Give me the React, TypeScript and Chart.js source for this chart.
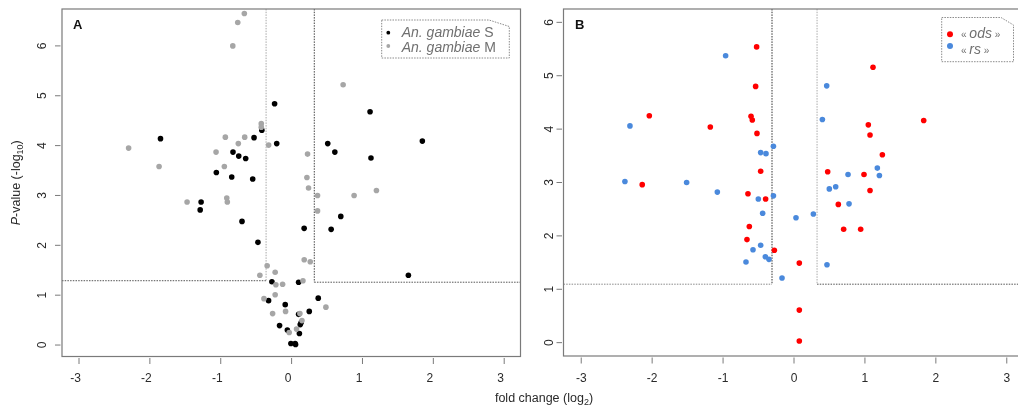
import React, { useEffect, useRef } from "react";
import { Chart, registerables } from "chart.js";

Chart.register(...registerables);

// ---------- data ----------
const xTickLabels = [-3, -2, -1, 0, 1, 2, 3];
const yTickLabels = [0, 1, 2, 3, 4, 5, 6];

// Panel A: An. gambiae S (black) and M (grey)
const gambiaeS: number[][] = [
  [-0.24, 4.84], [1.107, 4.68], [1.845, 4.09], [-1.85, 4.14], [-0.53, 4.16], [-0.42, 4.31],
  [-0.21, 4.04], [0.51, 4.04], [0.61, 3.87], [1.12, 3.75], [-0.827, 3.87], [-0.746, 3.79],
  [-0.648, 3.74], [-1.062, 3.46], [-0.845, 3.37], [-0.549, 3.33], [-1.277, 2.87], [-1.29, 2.71],
  [-0.7, 2.48], [0.694, 2.58], [0.558, 2.32], [0.177, 2.34], [-0.475, 2.06], [1.648, 1.4],
  [-0.278, 1.27], [0.099, 1.26], [-0.325, 0.89], [0.376, 0.94], [-0.09, 0.81], [0.249, 0.675],
  [0.099, 0.615], [0.122, 0.41], [0.135, 0.45], [-0.17, 0.39], [-0.06, 0.3], [0.11, 0.23],
  [-0.01, 0.03], [0.05, 0.03], [0.056, 0.01],
];
const gambiaeM: number[][] = [
  [-0.667, 6.65], [-0.76, 6.47], [-0.83, 6.0], [0.727, 5.22], [-2.3, 3.95], [-1.87, 3.58],
  [-1.475, 2.87], [-1.066, 3.87], [-0.935, 4.17], [-0.949, 3.58], [-0.915, 2.95], [-0.907, 2.87],
  [-0.752, 4.04], [-0.662, 4.17], [-0.428, 4.44], [-0.428, 4.37], [-0.324, 4.01], [0.225, 3.83],
  [0.216, 3.36], [0.239, 3.15], [0.366, 3.0], [0.366, 2.69], [0.882, 3.0], [1.197, 3.1],
  [0.178, 1.71], [0.263, 1.67], [-0.345, 1.59], [-0.448, 1.4], [-0.232, 1.46], [-0.222, 1.21],
  [-0.127, 1.22], [0.16, 1.29], [-0.232, 1.01], [-0.39, 0.93], [-0.268, 0.63], [-0.085, 0.675],
  [0.117, 0.63], [0.484, 0.76], [0.146, 0.49], [0.07, 0.32], [-0.034, 0.25],
];
const thresholdsA = { leftX: -0.36, rightX: 0.32, leftY: 1.29, rightY: 1.26 };

// Panel B: « ods » (red) and « rs » (blue)
const ods: number[][] = [
  [-0.527, 5.54], [1.114, 5.16], [-0.541, 4.8], [-2.04, 4.25], [-1.18, 4.04], [-0.606, 4.24],
  [-0.588, 4.17], [-0.522, 3.92], [1.829, 4.16], [1.048, 4.08], [1.072, 3.89], [1.246, 3.52],
  [-0.47, 3.21], [0.475, 3.2], [0.987, 3.15], [1.072, 2.85], [-2.14, 2.96], [-0.649, 2.79],
  [-0.4, 2.69], [0.625, 2.59], [-0.63, 2.175], [-0.663, 1.93], [0.7, 2.125], [0.94, 2.125],
  [-0.277, 1.73], [0.075, 1.49], [0.075, 0.61], [0.075, 0.03],
];
const rs: number[][] = [
  [-0.964, 5.375], [0.461, 4.81], [0.4, 4.18], [-2.313, 4.06], [-0.29, 3.68], [-0.47, 3.56],
  [-0.395, 3.54], [1.175, 3.27], [0.762, 3.15], [1.204, 3.13], [-2.384, 3.02], [-1.514, 3.0],
  [-1.081, 2.82], [0.588, 2.92], [0.498, 2.88], [-0.29, 2.75], [-0.503, 2.69], [0.776, 2.6],
  [-0.442, 2.425], [0.028, 2.34], [0.273, 2.41], [-0.47, 1.825], [-0.578, 1.74], [-0.404, 1.61],
  [-0.353, 1.56], [-0.677, 1.51], [0.465, 1.46], [-0.169, 1.21],
];
const thresholdsB = { leftX: -0.31, rightX: 0.325, leftY: 1.095, rightY: 1.095 };

// ---------- styling ----------
const FONT = '"Liberation Sans", Arial, Helvetica, sans-serif';
const BOX = "#7a7a7a";
const TXT = "#2a2a2a";
const LEG_TXT = "#707070";
const BLACK = "#000000";
const GREY = "#a6a6a6";
const RED = "#ff0000";
const BLUE = "#4a89dc";

type Part = { text: string; font: string };
type LegendItem = { color: string; r: number; mx: number; my: number; tx: number; ty: number; parts: Part[] };
type PanelCfg = {
  letter: string;
  left: number;
  width: number;
  padding: { left: number; right: number; top: number; bottom: number };
  xRange: [number, number];
  yRange: [number, number];
  series: { data: number[][]; color: string }[];
  thr: { leftX: number; rightX: number; leftY: number; rightY: number };
  thrColors: { leftV: string; leftH: string; rightV: string; rightH: string };
  xLabelShift: number;
  yLabelX: number;
  letterX: number;
  legendBox: { x0: number; y0: number; x1: number; y1: number; cutX: number; cutY: number };
  legend: LegendItem[];
  yTitle: boolean;
};

function drawParts(ctx: CanvasRenderingContext2D, parts: Part[], x: number, y: number) {
  let cx = x;
  for (const p of parts) {
    ctx.font = p.font;
    ctx.fillText(p.text, cx, y);
    cx += ctx.measureText(p.text).width;
  }
}

function makePlugin(cfg: PanelCfg) {
  return {
    id: "panel" + cfg.letter,
    beforeDatasetsDraw(chart: any) {
      const ctx = chart.ctx as CanvasRenderingContext2D;
      const xs = chart.scales.x;
      const ys = chart.scales.y;
      const a = chart.chartArea;
      const lx = xs.getPixelForValue(cfg.thr.leftX);
      const rx = xs.getPixelForValue(cfg.thr.rightX);
      const ly = ys.getPixelForValue(cfg.thr.leftY);
      const ry = ys.getPixelForValue(cfg.thr.rightY);
      ctx.save();
      ctx.lineWidth = 1;
      ctx.setLineDash([1.5, 1.2]);
      const seg = (x1: number, y1: number, x2: number, y2: number, c: string) => {
        ctx.strokeStyle = c;
        ctx.beginPath();
        ctx.moveTo(x1, y1);
        ctx.lineTo(x2, y2);
        ctx.stroke();
      };
      seg(a.left, ly, lx, ly, cfg.thrColors.leftH);
      seg(lx, a.top, lx, ly, cfg.thrColors.leftV);
      seg(rx, a.top, rx, ry, cfg.thrColors.rightV);
      seg(rx, ry, a.right, ry, cfg.thrColors.rightH);
      ctx.restore();
    },
    afterDraw(chart: any) {
      const ctx = chart.ctx as CanvasRenderingContext2D;
      const xs = chart.scales.x;
      const ys = chart.scales.y;
      const a = chart.chartArea;
      ctx.save();
      // box
      ctx.strokeStyle = BOX;
      ctx.lineWidth = 1.2;
      ctx.strokeRect(a.left, a.top, a.right - a.left, a.bottom - a.top);
      // ticks
      ctx.beginPath();
      for (const v of xTickLabels) {
        const px = xs.getPixelForValue(v);
        ctx.moveTo(px, a.bottom + 1.5);
        ctx.lineTo(px, a.bottom + 7.5);
      }
      for (const v of yTickLabels) {
        const py = ys.getPixelForValue(v);
        ctx.moveTo(a.left - 1.5, py);
        ctx.lineTo(a.left - 7, py);
      }
      ctx.lineWidth = 1;
      ctx.stroke();
      // tick labels
      ctx.fillStyle = TXT;
      ctx.font = "12px " + FONT;
      ctx.textAlign = "center";
      ctx.textBaseline = "middle";
      for (const v of xTickLabels) {
        const px = xs.getPixelForValue(v) + cfg.xLabelShift;
        ctx.fillText(String(v), px, 379);
      }
      for (const v of yTickLabels) {
        const py = ys.getPixelForValue(v);
        ctx.save();
        ctx.translate(cfg.yLabelX, py);
        ctx.rotate(-Math.PI / 2);
        ctx.fillText(String(v), 0, 0);
        ctx.restore();
      }
      // y title
      if (cfg.yTitle) {
        const parts: Part[] = [
          { text: "P", font: "italic 12.5px " + FONT },
          { text: "-value (-log", font: "12.5px " + FONT },
          { text: "10", font: "9px " + FONT },
          { text: ")", font: "12.5px " + FONT },
        ];
        let total = 0;
        for (const p of parts) {
          ctx.font = p.font;
          total += ctx.measureText(p.text).width;
        }
        ctx.save();
        ctx.translate(17, (a.top + a.bottom) / 2);
        ctx.rotate(-Math.PI / 2);
        ctx.textAlign = "left";
        ctx.textBaseline = "middle";
        let cx = -total / 2;
        for (const p of parts) {
          ctx.font = p.font;
          ctx.fillText(p.text, cx, p.text === "10" ? 3.5 : 0);
          cx += ctx.measureText(p.text).width;
        }
        ctx.restore();
      }
      // panel letter
      ctx.font = "bold 13px " + FONT;
      ctx.fillStyle = "#111";
      ctx.textAlign = "left";
      ctx.textBaseline = "alphabetic";
      ctx.fillText(cfg.letter, cfg.letterX, 28.5);
      // legend box
      const b = cfg.legendBox;
      ctx.beginPath();
      ctx.moveTo(b.x0, b.y0);
      ctx.lineTo(b.cutX, b.y0);
      ctx.lineTo(b.x1, b.cutY);
      ctx.lineTo(b.x1, b.y1);
      ctx.lineTo(b.x0, b.y1);
      ctx.closePath();
      ctx.fillStyle = "#ffffff";
      ctx.fill();
      ctx.setLineDash([1.5, 1.2]);
      ctx.strokeStyle = "#8a8a8a";
      ctx.lineWidth = 1;
      ctx.stroke();
      ctx.setLineDash([]);
      for (const it of cfg.legend) {
        ctx.fillStyle = it.color;
        ctx.beginPath();
        ctx.arc(it.mx, it.my, it.r, 0, Math.PI * 2);
        ctx.fill();
        ctx.fillStyle = LEG_TXT;
        ctx.textAlign = "left";
        ctx.textBaseline = "alphabetic";
        drawParts(ctx, it.parts, it.tx, it.ty);
      }
      ctx.restore();
    },
  };
}

const panelA: PanelCfg = {
  letter: "A",
  left: 0,
  width: 528,
  padding: { left: 62, right: 7.5, top: 9, bottom: 53.5 },
  xRange: [-3.24, 3.23],
  yRange: [-0.23, 6.74],
  series: [
    { data: gambiaeM, color: GREY },
    { data: gambiaeS, color: BLACK },
  ],
  thr: thresholdsA,
  thrColors: { leftV: "#a8a8a8", leftH: "#555555", rightV: "#444444", rightH: "#555555" },
  xLabelShift: -3.5,
  yLabelX: 43,
  letterX: 73,
  legendBox: { x0: 381.7, y0: 20, x1: 509.3, y1: 58, cutX: 489, cutY: 26.5 },
  legend: [
    {
      color: BLACK, r: 1.9, mx: 388.3, my: 32.7, tx: 401.7, ty: 36.5,
      parts: [{ text: "An. gambiae", font: "italic 14px " + FONT }, { text: " S", font: "14px " + FONT }],
    },
    {
      color: GREY, r: 1.9, mx: 388.3, my: 46, tx: 401.7, ty: 52,
      parts: [{ text: "An. gambiae", font: "italic 14px " + FONT }, { text: " M", font: "14px " + FONT }],
    },
  ],
  yTitle: true,
};

const panelB: PanelCfg = {
  letter: "B",
  left: 524,
  width: 506,
  padding: { left: 39.5, right: 5.5, top: 9, bottom: 54 },
  xRange: [-3.25, 3.25],
  yRange: [-0.25, 6.25],
  series: [
    { data: ods, color: RED },
    { data: rs, color: BLUE },
  ],
  thr: thresholdsB,
  thrColors: { leftV: "#333333", leftH: "#8a8a8a", rightV: "#aaaaaa", rightH: "#555555" },
  xLabelShift: 0,
  yLabelX: 25.3,
  letterX: 51,
  legendBox: { x0: 417.7, y0: 17.5, x1: 489.5, y1: 61.7, cutX: 477, cutY: 25 },
  legend: [
    {
      color: RED, r: 3, mx: 426, my: 34.3, tx: 437, ty: 37.5,
      parts: [
        { text: "« ", font: "10px " + FONT },
        { text: "ods", font: "italic 14px " + FONT },
        { text: " »", font: "10px " + FONT },
      ],
    },
    {
      color: BLUE, r: 3, mx: 426, my: 46, tx: 437, ty: 54,
      parts: [
        { text: "« ", font: "10px " + FONT },
        { text: "rs", font: "italic 14px " + FONT },
        { text: " »", font: "10px " + FONT },
      ],
    },
  ],
  yTitle: false,
};

function Panel({ cfg }: { cfg: PanelCfg }) {
  const ref = useRef<HTMLCanvasElement | null>(null);
  useEffect(() => {
    if (!ref.current) return;
    const chart = new Chart(ref.current, {
      type: "scatter",
      data: {
        datasets: cfg.series.map((s) => ({
          data: s.data.map(([x, y]) => ({ x, y })),
          backgroundColor: s.color,
          borderColor: s.color,
          borderWidth: 0,
          pointRadius: 2.8,
          pointHoverRadius: 2.8,
        })),
      },
      options: {
        animation: false,
        responsive: false,
        maintainAspectRatio: false,
        events: [],
        layout: { padding: cfg.padding },
        plugins: { legend: { display: false }, tooltip: { enabled: false } },
        scales: {
          x: { type: "linear", min: cfg.xRange[0], max: cfg.xRange[1], display: false },
          y: { type: "linear", min: cfg.yRange[0], max: cfg.yRange[1], display: false },
        },
      },
      plugins: [makePlugin(cfg)],
    } as any);
    return () => chart.destroy();
  }, [cfg]);
  return (
    <canvas
      ref={ref}
      width={cfg.width}
      height={410}
      style={{ position: "absolute", left: cfg.left, top: 0, width: cfg.width, height: 410 }}
    />
  );
}

export default function App() {
  return (
    <div
      style={{
        position: "absolute",
        left: 0,
        top: 0,
        width: 1018,
        height: 410,
        overflow: "hidden",
        background: "#ffffff",
      }}
    >
      <Panel cfg={panelA} />
      <Panel cfg={panelB} />
      <div
        style={{
          position: "absolute",
          left: 544,
          top: 391,
          transform: "translateX(-50%)",
          whiteSpace: "nowrap",
          font: "12.5px " + FONT,
          lineHeight: "15px",
          color: TXT,
        }}
      >
        fold change (log
        <span style={{ fontSize: 9, position: "relative", top: 3 }}>2</span>)
      </div>
    </div>
  );
}
